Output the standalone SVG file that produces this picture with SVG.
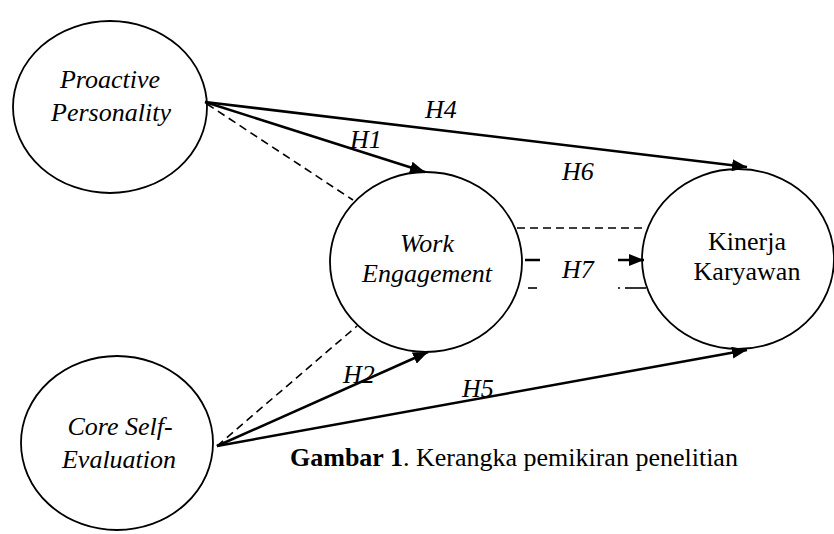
<svg xmlns="http://www.w3.org/2000/svg" width="834" height="534" viewBox="0 0 834 534">
<style>
.node{fill:#fff;stroke:#000;stroke-width:1.8}
.t{font-family:"Liberation Serif","Times New Roman",serif;font-size:26px;fill:#000}
.i{font-style:italic}
.c{text-anchor:middle}
.arr{stroke:#000;stroke-width:2.5;fill:none;marker-end:url(#ah)}
.sol{stroke:#000;stroke-width:2.5;fill:none}
.dash{stroke:#000;stroke-width:1.6;fill:none;stroke-dasharray:8,5}
</style>
<defs>
<marker id="ah" markerUnits="userSpaceOnUse" markerWidth="15" markerHeight="12" refX="15" refY="6" orient="auto">
<path d="M0,0 L15,6 L0,12 z" fill="#000"/>
</marker>
</defs>
<rect width="834" height="534" fill="#fff"/>
<g id="connectors">
<line class="dash" x1="207" y1="104" x2="353" y2="200"/>
<line class="dash" x1="217" y1="446" x2="357" y2="326"/>
<line class="arr" x1="205" y1="102" x2="747" y2="167"/>
<line class="arr" x1="205" y1="102" x2="425" y2="172"/>
<line class="arr" x1="217" y1="446" x2="428" y2="352"/>
<line class="arr" x1="217" y1="446" x2="747" y2="350"/>
<line class="dash" x1="517" y1="228" x2="647" y2="228"/>
<line class="sol" x1="525" y1="260" x2="540" y2="260"/>
<line class="arr" x1="618" y1="260" x2="644" y2="260"/>
<line class="sol" x1="528" y1="288" x2="537" y2="288" style="stroke-width:1.6"/>
<line class="sol" x1="618" y1="288" x2="620" y2="288" style="stroke-width:1.6"/>
<line class="sol" x1="625" y1="288" x2="646" y2="288" style="stroke-width:1.6"/>
</g>
<g id="proactive-personality">
<ellipse class="node" cx="110" cy="107" rx="97" ry="86" style="fill:none"/>
<text class="t i c" x="110" y="88">Proactive</text>
<text class="t i c" x="111" y="121">Personality</text>
</g>
<g id="work-engagement">
<ellipse class="node" cx="426" cy="262" rx="96" ry="90" style="fill:none"/>
<text class="t i c" x="427" y="252">Work</text>
<text class="t i c" x="427" y="282">Engagement</text>
</g>
<g id="kinerja-karyawan">
<ellipse class="node" cx="738" cy="259" rx="96" ry="90" style="fill:none"/>
<text class="t c" x="747" y="250">Kinerja</text>
<text class="t c" x="747" y="280">Karyawan</text>
</g>
<g id="core-self-evaluation">
<ellipse class="node" cx="117" cy="443" rx="96" ry="87" style="fill:none"/>
<text class="t i c" x="120" y="435">Core Self-</text>
<text class="t i c" x="119" y="468">Evaluation</text>
</g>
<g id="labels">
<text class="t i" x="425" y="118">H4</text>
<text class="t i" x="350" y="148">H1</text>
<text class="t i" x="562" y="180">H6</text>
<text class="t i" x="562" y="278">H7</text>
<text class="t i" x="343" y="383">H2</text>
<text class="t i" x="462" y="397">H5</text>
</g>
<text class="t" x="290" y="466"><tspan font-weight="bold">Gambar 1</tspan>. Kerangka pemikiran penelitian</text>
</svg>
